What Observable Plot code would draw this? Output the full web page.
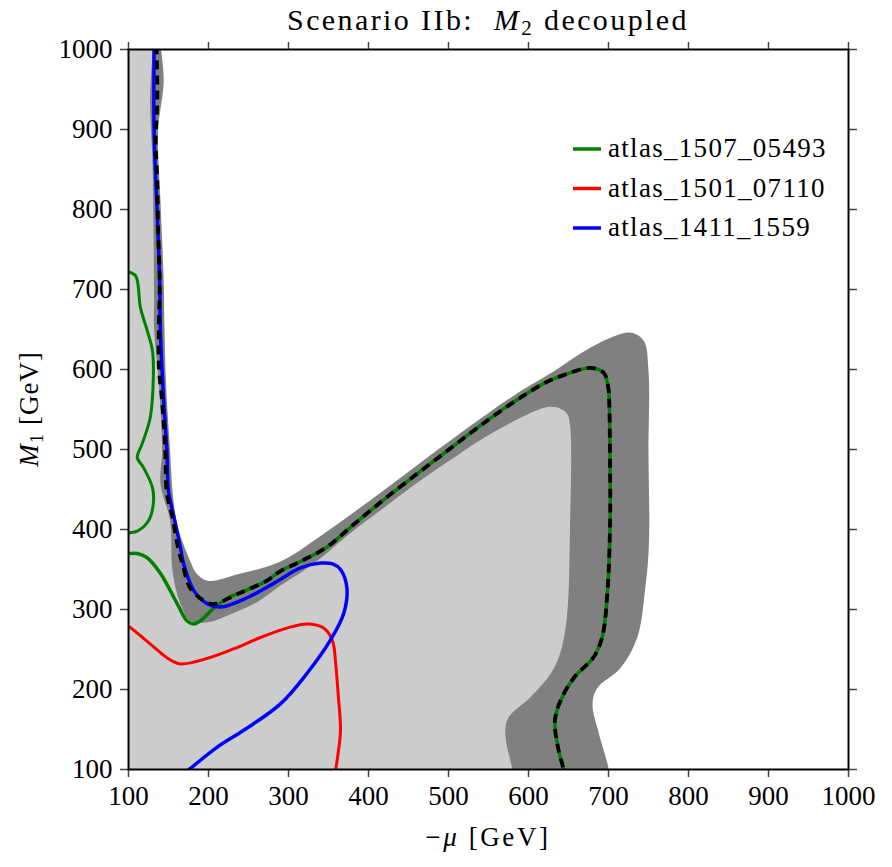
<!DOCTYPE html>
<html><head><meta charset="utf-8">
<script src="https://cdn.jsdelivr.net/npm/d3@7"></script>
<script src="https://cdn.jsdelivr.net/npm/@observablehq/plot@0.6"></script>
<style>
html,body{margin:0;padding:0;background:#fff;}
#wrap{position:relative;width:892px;height:867px;}
</style></head><body><div id="wrap"></div>
<script>
// ---------- data ----------
const tickValues = [100, 200, 300, 400, 500, 600, 700, 800, 900, 1000];

// outer edge of the dark-gray band (dark gray fill)
const outerX = [90, 141, 141, 144, 137, 140, 144, 145, 147, 152, 155, 160, 167, 177, 185, 199, 240, 290, 340, 415, 498, 581, 624, 686, 728, 744, 750, 750, 751, 750, 746, 736, 715, 686, 680, 688, 700, 700, 90];
const outerY = [1010, 1010, 1000, 960, 898, 810, 710, 650, 580, 498, 448, 410, 386, 361, 345, 336, 345, 360, 392, 446, 508, 567, 593, 632, 646, 636, 598, 494, 411, 370, 327, 265, 227, 202, 182, 145, 101, 90, 90];

// inner edge of the band (light gray fill)
const innerX = [90, 130, 130, 127, 130, 132, 132, 138, 142, 140, 152, 155, 165, 177, 199, 232, 262, 290, 315, 340, 373, 415, 456, 498, 540, 581, 624, 640, 648, 652, 652, 646, 632, 602, 575, 571, 580, 582, 90];
const innerY = [1010, 1010, 998, 939, 857, 689, 652, 582, 498, 457, 411, 348, 307, 286, 284, 296, 310, 330, 346, 364, 392, 424, 455, 484, 512, 535, 553, 551, 545, 530, 411, 274, 227, 190, 165, 145, 100, 90, 90];

// combined (black dashed) contour
const comboX = [135, 136, 134, 136, 137, 139, 138, 138, 142, 146, 148, 155, 162, 168, 177, 194, 206, 240, 273, 290, 315, 348, 380, 415, 456, 498, 540, 581, 620, 644, 677, 694, 700, 701, 702, 702, 699, 692, 681, 657, 640, 633, 637, 644, 645];
const comboY = [1005, 939, 885, 835, 773, 710, 657, 602, 561, 498, 445, 415, 377, 355, 327, 311, 307, 321, 336, 348, 360, 378, 405, 434, 466, 498, 530, 559, 583, 593, 602, 596, 575, 557, 473, 411, 327, 265, 240, 215, 186, 161, 127, 100, 95];

// atlas_1411_1559 (blue)
const blueX = [132, 132, 136, 139, 140, 144, 148, 150, 157, 165, 169, 182, 199, 215, 249, 282, 315, 340, 355, 365, 373, 369, 352, 323, 290, 244, 211, 177, 170];
const blueY = [1005, 898, 794, 710, 644, 561, 498, 448, 415, 377, 357, 323, 307, 303, 315, 333, 352, 358, 357, 350, 327, 295, 261, 220, 182, 149, 128, 101, 95];

// atlas_1507_05493 (green), upper island
const green1X = [95, 100, 109, 115, 123, 130, 131, 127, 117, 111, 119, 130, 131, 125, 111, 102, 95];
const green1Y = [722, 722, 717, 677, 650, 623, 589, 539, 507, 490, 477, 452, 432, 411, 398, 396, 396];

// atlas_1507_05493 (green), main contour
const green2X = [95, 100, 111, 123, 140, 161, 173, 182, 190, 207, 225, 240, 273, 290, 315, 348, 380, 415, 456, 498, 540, 581, 620, 644, 677, 694, 700, 701, 702, 702, 699, 692, 681, 657, 640, 633, 637, 644, 645];
const green2Y = [370, 370, 370, 365, 345, 307, 286, 282, 286, 302, 315, 321, 336, 348, 360, 378, 405, 434, 466, 498, 530, 559, 583, 593, 602, 596, 575, 557, 473, 411, 327, 265, 240, 215, 186, 161, 127, 100, 95];

// atlas_1501_07110 (red)
const redX = [95, 100, 127, 149, 165, 199, 232, 265, 299, 323, 344, 355, 359, 362, 365, 362, 359, 358];
const redY = [281, 279, 257, 239, 232, 239, 251, 265, 277, 282, 277, 261, 232, 195, 149, 120, 100, 95];

const legendNames = ["atlas_1507_05493", "atlas_1501_07110", "atlas_1411_1559"];
const legendColors = ["#008000", "#ff0000", "#0000ff"];

const rows = (xs, ys) => xs.map((x, i) => ({x, y: ys[i]}));

// ---------- chart ----------
const FONT = "'Liberation Serif', serif";
const chart = Plot.plot({
  width: 892, height: 867,
  marginLeft: 128, marginRight: 44, marginTop: 49, marginBottom: 98,
  x: {domain: [100, 1000]},
  y: {domain: [100, 1000]},
  style: {fontFamily: FONT, fontSize: "27px", background: "white", color: "black"},
  marks: [
    Plot.line(rows(outerX, outerY), {x: "x", y: "y", fill: "#808080", stroke: "none", curve: "catmull-rom", clip: true}),
    Plot.line(rows(innerX, innerY), {x: "x", y: "y", fill: "#cccccc", stroke: "none", curve: "catmull-rom", clip: true}),
    Plot.line(rows(green1X, green1Y), {x: "x", y: "y", stroke: "#008000", strokeWidth: 3, curve: "catmull-rom", clip: true}),
    Plot.line(rows(green2X, green2Y), {x: "x", y: "y", stroke: "#008000", strokeWidth: 3.5, curve: "catmull-rom", clip: true}),
    Plot.line(rows(redX, redY), {x: "x", y: "y", stroke: "#ff0000", strokeWidth: 3, curve: "catmull-rom", clip: true}),
    Plot.line(rows(blueX, blueY), {x: "x", y: "y", stroke: "#0000ff", strokeWidth: 3.5, curve: "catmull-rom", clip: true}),
    Plot.line(rows(comboX, comboY), {x: "x", y: "y", stroke: "black", strokeWidth: 3.8, strokeDasharray: "9,6", strokeLinecap: "butt", curve: "catmull-rom", clip: true}),
    Plot.axisX({ticks: tickValues, tickSize: 8, tickPadding: 8, label: null, tickFormat: d => String(d), stroke: "#444", strokeWidth: 1.5, fill: "black"}),
    Plot.axisX({ticks: tickValues, anchor: "top", tickSize: 8, label: null, tickFormat: () => "", stroke: "#444", strokeWidth: 1.5}),
    Plot.axisY({ticks: tickValues, tickSize: 8, tickPadding: 8, label: null, tickFormat: d => String(d), stroke: "#444", strokeWidth: 1.5, fill: "black"}),
    Plot.axisY({ticks: tickValues, anchor: "right", tickSize: 8, label: null, tickFormat: () => "", stroke: "#444", strokeWidth: 1.5}),
    Plot.frame({stroke: "black", strokeWidth: 2})
  ]
});
document.getElementById("wrap").appendChild(chart);

// ---------- titles, axis labels, legend ----------
const svg = d3.select(chart);
const fx0 = 128, fx1 = 848, fy0 = 49, fy1 = 769;

const title = svg.append("text")
  .attr("x", (fx0 + fx1) / 2).attr("y", 30)
  .attr("text-anchor", "middle")
  .attr("font-family", FONT).attr("font-size", 30).attr("letter-spacing", "2.4px").attr("fill", "black");
title.append("tspan").text("Scenario IIb:  ");
title.append("tspan").attr("font-style", "italic").text("M");
title.append("tspan").attr("font-size", 21).attr("dy", 5).text("2");
title.append("tspan").attr("dy", -5).text(" decoupled");

const xl = svg.append("text")
  .attr("x", (fx0 + fx1) / 2).attr("y", 846)
  .attr("text-anchor", "middle")
  .attr("font-family", FONT).attr("font-size", 27).attr("letter-spacing", "2.6px").attr("fill", "black");
xl.append("tspan").text("\u2212");
xl.append("tspan").attr("font-style", "italic").text("\u03bc");
xl.append("tspan").text(" [GeV]");

const yl = svg.append("text")
  .attr("transform", `translate(38,${(fy0 + fy1) / 2}) rotate(-90)`)
  .attr("text-anchor", "middle")
  .attr("font-family", FONT).attr("font-size", 27).attr("letter-spacing", "1.0px").attr("fill", "black");
yl.append("tspan").attr("font-style", "italic").text("M");
yl.append("tspan").attr("font-size", 19).attr("dy", 5).text("1");
yl.append("tspan").attr("dy", -5).text(" [GeV]");

const lg = svg.append("g");
legendNames.forEach((name, i) => {
  const yy = 149 + i * 39.5;
  lg.append("line").attr("x1", 573).attr("x2", 601).attr("y1", yy).attr("y2", yy)
    .attr("stroke", legendColors[i]).attr("stroke-width", 3.5);
  lg.append("text").attr("x", 608).attr("y", yy + 8)
    .attr("text-anchor", "start")
    .attr("font-family", FONT).attr("font-size", 27).attr("letter-spacing", "1.3px")
    .attr("fill", "black").text(name);
});
</script>
</body></html>
